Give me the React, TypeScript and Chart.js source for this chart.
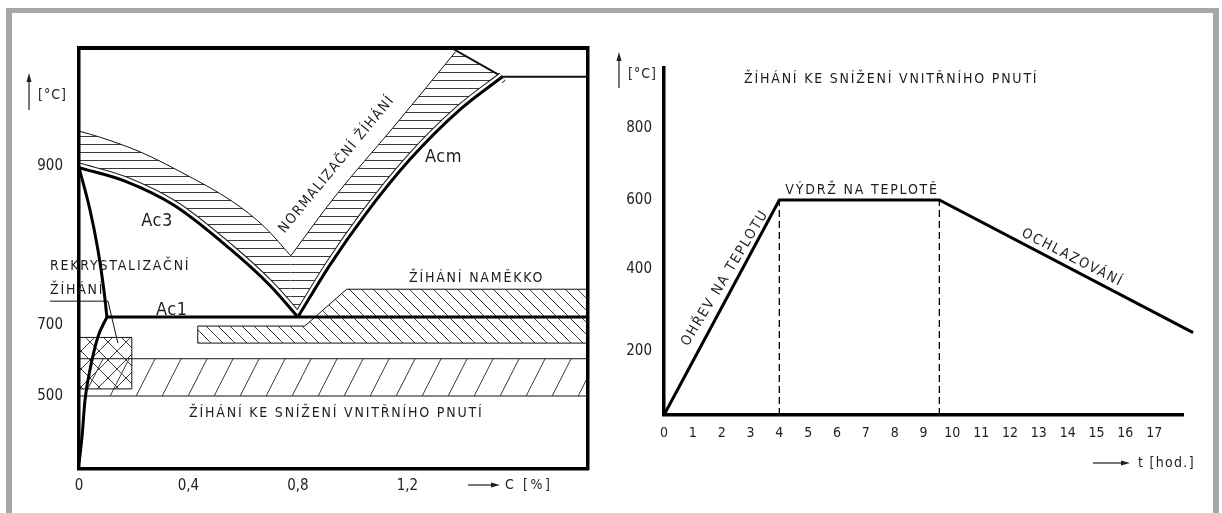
import React, { useEffect, useRef } from 'react';
import { Chart, registerables, LinearScale } from 'chart.js';

Chart.register(...registerables);

const FONT = "'DejaVu Sans Condensed', 'Liberation Sans Narrow', 'DejaVu Sans', sans-serif";

// ================= DATA : left diagram (x = C [%], y = °C) =================
const carbonTicks = [0, 0.4, 0.8, 1.2];
const carbonTickLabels = ['0', '0,4', '0,8', '1,2'];
const tempTicksLeft = [500, 700, 900];

const ac3Line = [[0, 898], [0.168, 881], [0.35, 850], [0.551, 796], [0.697, 750], [0.8, 710]];
const acmLine = [[0.8, 710], [0.916, 775], [1.044, 838], [1.208, 913], [1.391, 1019], [1.547, 1089]];
const ac1Line = [[0.102, 710], [1.86, 710]];
const gpLine = [[0, 898], [0.04, 845], [0.069, 795], [0.091, 744], [0.102, 710]];
const pqLine = [[0, 316], [0.011, 388], [0.022, 489], [0.04, 573], [0.069, 666], [0.102, 710]];
const acmTopLine = [[1.547, 1089], [1.86, 1089]];
const normLeftEdge = [[0, 974], [0.077, 961], [0.223, 930], [0.369, 893], [0.562, 855], [0.679, 823], [0.774, 787]];
const normRightEdge = [[0.774, 787], [0.934, 861], [1.153, 985], [1.376, 1142]];
const normTopEdge = [[1.361, 1150], [1.547, 1089]];
const softTop = [[0.434, 697], [0.825, 697], [0.978, 745], [1.86, 745]];
const softBottom = [[0.434, 649], [1.86, 649]];
const softSide = [[0.434, 649], [0.434, 697]];
const stressTop = [[0, 605], [1.86, 605]];
const stressBottom = [[0, 500], [1.86, 500]];
const recrystTop = [[0, 665], [0.193, 665]];
const recrystBottom = [[0, 520], [0.193, 520]];
const recrystSide = [[0.193, 520], [0.193, 665]];
const recrystLeader = [[-0.106, 730], [0.106, 730], [0.142, 649]];

const leftLabelTexts = ['Ac3', 'Acm', 'Ac1', 'NORMALIZAČNÍ ŽÍHÁNÍ', 'REKRYSTALIZAČNÍ', 'ŽÍHÁNÍ', 'ŽÍHÁNÍ NAMĚKKO', 'ŽÍHÁNÍ KE SNÍŽENÍ VNITŘNÍHO PNUTÍ'];
const leftLabelX = [0.285, 1.332, 0.339, 0.942, -0.106, -0.106, 1.453, 0.94];
const leftLabelY = [831, 919, 718, 903, 774, 744, 759, 453];

// ================= DATA : right diagram (x = t [hod.], y = °C) =================
const hourTicks = [0, 1, 2, 3, 4, 5, 6, 7, 8, 9, 10, 11, 12, 13, 14, 15, 16, 17];
const tempTicksRight = [200, 400, 600, 800];
const cycleHours = [0, 4, 9.55, 18.35];
const cycleTemps = [0, 600, 600, 245];
const holdStart = [[4, 0], [4, 600]];
const holdEnd = [[9.55, 0], [9.55, 600]];

const rightLabelTexts = ['ŽÍHÁNÍ KE SNÍŽENÍ VNITŘNÍHO PNUTÍ', 'VÝDRŽ NA TEPLOTĚ', 'OHŘEV NA TEPLOTU', 'OCHLAZOVÁNÍ'];
const rightLabelX = [7.88, 6.87, 2.12, 14.16];
const rightLabelY = [934, 628, 378, 432];

// ================= LAYOUT (schematic, non-uniform temperature axes) =================
const L = { w: 600, h: 513, left: 79, right: 588, top: 48, bottom: 469 };
const leftBreakVals = [300, 500, 700, 900, 1150];
const leftBreakPx = [469, 396, 325, 166, 48];
const R = { w: 622, h: 513, left: 64, right: 583, top: 68, bottom: 415 };
const rightBreakVals = [0, 200, 400, 600, 800, 967];
const rightBreakPx = [415, 351, 269, 200, 128, 68];

function makePiecewise(id: string, vals: number[], px: number[], bottom: number, top: number) {
  const decs = px.map((p) => (bottom - p) / (bottom - top));
  const seg = (arr: number[], v: number) => {
    let i = 0;
    while (i < arr.length - 2 && v > arr[i + 1]) i++;
    return i;
  };
  const toDec = (v: number) => {
    const i = seg(vals, v);
    return decs[i] + ((v - vals[i]) / (vals[i + 1] - vals[i])) * (decs[i + 1] - decs[i]);
  };
  const fromDec = (d: number) => {
    const i = seg(decs, d);
    return vals[i] + ((d - decs[i]) / (decs[i + 1] - decs[i])) * (vals[i + 1] - vals[i]);
  };
  const Base: any = LinearScale;
  class PiecewiseScale extends Base {
    static id = id;
    getPixelForValue(value: any) {
      if (value === null || value === undefined || Number.isNaN(+value)) return NaN;
      return (this as any).getPixelForDecimal(toDec(+value));
    }
    getValueForPixel(pixel: number) {
      return fromDec((this as any).getDecimalForPixel(pixel));
    }
  }
  Chart.register(PiecewiseScale as any);
}
makePiecewise('pwLeft', leftBreakVals, leftBreakPx, L.bottom, L.top);
makePiecewise('pwRight', rightBreakVals, rightBreakPx, R.bottom, R.top);

Chart.defaults.font.family = FONT;

const xy = (a: number[][]) => a.map(([x, y]) => ({ x, y }));
function line(data: number[][], o: any = {}) {
  return {
    type: 'line',
    data: xy(data),
    borderColor: '#111',
    borderWidth: 1,
    pointRadius: 0,
    pointHoverRadius: 0,
    fill: false,
    tension: 0,
    ...o,
  };
}
const curve = { cubicInterpolationMode: 'monotone' };

function pattern(ctx: CanvasRenderingContext2D, w: number, h: number, draw: (g: CanvasRenderingContext2D) => void) {
  const c = document.createElement('canvas');
  c.width = w;
  c.height = h;
  const g = c.getContext('2d')!;
  g.strokeStyle = '#3a3a3a';
  g.lineWidth = 1;
  draw(g);
  return ctx.createPattern(c, 'repeat');
}

function arrow(ctx: CanvasRenderingContext2D, x1: number, y1: number, x2: number, y2: number, head = 9, half = 2.5, lw = 1.2) {
  const a = Math.atan2(y2 - y1, x2 - x1);
  ctx.save();
  ctx.strokeStyle = '#1e1e1e';
  ctx.fillStyle = '#1e1e1e';
  ctx.lineWidth = lw;
  ctx.beginPath();
  ctx.moveTo(x1, y1);
  ctx.lineTo(x2 - Math.cos(a) * head * 0.7, y2 - Math.sin(a) * head * 0.7);
  ctx.stroke();
  ctx.translate(x2, y2);
  ctx.rotate(a);
  ctx.beginPath();
  ctx.moveTo(0, 0);
  ctx.lineTo(-head, -half);
  ctx.lineTo(-head, half);
  ctx.closePath();
  ctx.fill();
  ctx.restore();
}

function label(ctx: CanvasRenderingContext2D, s: string, x: number, y: number, o: any = {}) {
  const { size = 14, rot = 0, align = 'center', spacing = 1.8 } = o;
  ctx.save();
  ctx.font = `${size}px ${FONT}`;
  (ctx as any).letterSpacing = `${spacing}px`;
  ctx.fillStyle = '#1e1e1e';
  ctx.textAlign = align;
  ctx.textBaseline = 'middle';
  ctx.translate(x, y);
  ctx.rotate((rot * Math.PI) / 180);
  ctx.fillText(s, 0, 0);
  ctx.restore();
}

const leftLabelStyle = [
  { size: 18, spacing: 0.5 },
  { size: 18, spacing: 0.5 },
  { size: 18, spacing: 0.5 },
  { rot: -50.5, spacing: 1.5 },
  { align: 'left' },
  { align: 'left' },
  {},
  {},
];
const rightLabelStyle = [{}, {}, { rot: -59 }, { rot: 27 }];

const hiddenFrameAxis = (position: string, size: number) => ({
  type: 'linear',
  position,
  min: 0,
  max: 1,
  grid: { display: false, drawTicks: false },
  ticks: { display: false },
  border: { display: true, color: '#000', width: size, z: 1 },
  afterFit: (s: any) => {
    if (position === 'top') s.height = 0;
    else s.width = 0;
  },
});

function leftConfig(ctx: CanvasRenderingContext2D): any {
  const hatchH = pattern(ctx, 8, 8, (g) => {
    g.beginPath();
    g.moveTo(0, 0.5);
    g.lineTo(8, 0.5);
    g.stroke();
  });
  const hatchBack = pattern(ctx, 12, 12, (g) => {
    g.beginPath();
    for (let k = -1; k <= 1; k++) {
      g.moveTo(k * 12, 0);
      g.lineTo(k * 12 + 12, 12);
    }
    g.stroke();
  });
  const hatchSlash = pattern(ctx, 26, 51, (g) => {
    g.beginPath();
    for (let k = -1; k <= 1; k++) {
      g.moveTo(k * 26, 51);
      g.lineTo(k * 26 + 26, 0);
    }
    g.stroke();
  });
  const hatchCross = pattern(ctx, 18, 18, (g) => {
    g.beginPath();
    for (let k = -1; k <= 1; k++) {
      g.moveTo(k * 18, 0);
      g.lineTo(k * 18 + 18, 18);
      g.moveTo(k * 18, 18);
      g.lineTo(k * 18 + 18, 0);
    }
    g.stroke();
  });

  // Each dataset's fill is drawn just before its own line; higher "order" is drawn first.
  const datasets = [
    line(normLeftEdge, { ...curve, fill: 'start', backgroundColor: hatchH, order: 50 }), // 0
    line(normRightEdge, { ...curve, fill: 'start', backgroundColor: hatchH, order: 50 }), // 1
    line(normTopEdge, { fill: 'start', backgroundColor: hatchH, borderWidth: 2, order: 50 }), // 2
    line(ac3Line, { ...curve, borderColor: '#222', borderWidth: 10, order: 48 }), // 3 outline of hatched band
    line(acmLine, { ...curve, borderColor: '#222', borderWidth: 10, order: 48 }), // 4
    line(ac3Line, { ...curve, borderColor: '#fff', borderWidth: 8, order: 47 }), // 5 white gap
    line(acmLine, { ...curve, borderColor: '#fff', borderWidth: 8, order: 47 }), // 6
    line(ac3Line, { ...curve, fill: 'start', backgroundColor: '#fff', borderWidth: 0, order: 45 }), // 7
    line(acmLine, { ...curve, fill: 'start', backgroundColor: '#fff', borderWidth: 0, order: 45 }), // 8
    line(stressTop, { fill: 10, backgroundColor: hatchSlash, order: 40 }), // 9
    line(stressBottom, { order: 40 }), // 10
    line(softTop, { fill: 12, backgroundColor: hatchBack, order: 40 }), // 11
    line(softBottom, { order: 40 }), // 12
    line(recrystTop, { fill: 14, backgroundColor: hatchCross, order: 30 }), // 13
    line(recrystBottom, { order: 30 }), // 14
    line(softSide, { order: 4 }),
    line(recrystSide, { order: 4 }),
    line(recrystLeader, { order: 4, clip: false }),
    line(acmTopLine, { order: 4, borderWidth: 2 }),
    line(ac3Line, { ...curve, borderColor: '#000', borderWidth: 3, order: 1 }),
    line(acmLine, { ...curve, borderColor: '#000', borderWidth: 3, order: 1 }),
    line(ac1Line, { borderColor: '#000', borderWidth: 3, order: 1 }),
    line(gpLine, { ...curve, borderColor: '#000', borderWidth: 3, order: 1 }),
    line(pqLine, { ...curve, borderColor: '#000', borderWidth: 3, order: 1 }),
  ];

  const textPlugin = {
    id: 'leftText',
    afterDraw(chart: any) {
      const c = chart.ctx;
      const { x, y } = chart.scales;
      leftLabelTexts.forEach((t, i) => {
        label(c, t, x.getPixelForValue(leftLabelX[i]), y.getPixelForValue(leftLabelY[i]), leftLabelStyle[i]);
      });
      arrow(c, 29, 110, 29, 73);
      label(c, '[°C]', 38, 95, { align: 'left', spacing: 1 });
      arrow(c, 468, 485, 500, 485);
      label(c, 'C [%]', 505, 485, { align: 'left', spacing: 2.6 });
    },
  };

  return {
    type: 'line',
    data: { datasets },
    plugins: [textPlugin],
    options: {
      responsive: false,
      maintainAspectRatio: false,
      devicePixelRatio: 1,
      animation: false,
      events: [],
      layout: { padding: { left: 0, right: L.w - L.right, top: L.top, bottom: 0 } },
      plugins: {
        legend: { display: false },
        tooltip: { enabled: false },
        filler: { drawTime: 'beforeDatasetDraw' },
      },
      scales: {
        x: {
          type: 'linear',
          position: 'bottom',
          min: 0,
          max: 1.86,
          bounds: 'data',
          grid: { display: false, drawTicks: false },
          border: { display: true, color: '#000', width: 3.5, z: 1 },
          ticks: {
            font: { family: FONT, size: 15 },
            color: '#222',
            padding: 8,
            autoSkip: false,
            maxRotation: 0,
            callback: (v: number) => carbonTickLabels[carbonTicks.indexOf(v)] ?? '',
          },
          afterBuildTicks: (s: any) => {
            s.ticks = carbonTicks.map((v) => ({ value: v }));
          },
          afterFit: (s: any) => {
            s.height = L.h - L.bottom;
          },
        },
        y: {
          type: 'pwLeft',
          position: 'left',
          min: leftBreakVals[0],
          max: leftBreakVals[leftBreakVals.length - 1],
          bounds: 'data',
          grid: { display: false, drawTicks: false },
          border: { display: true, color: '#000', width: 3.5, z: 1 },
          ticks: { font: { family: FONT, size: 15 }, color: '#222', padding: 16 },
          afterBuildTicks: (s: any) => {
            s.ticks = tempTicksLeft.map((v) => ({ value: v }));
          },
          afterFit: (s: any) => {
            s.width = L.left;
          },
        },
        xTop: hiddenFrameAxis('top', 4),
        yRight: hiddenFrameAxis('right', 3.5),
      },
    },
  };
}

function rightConfig(): any {
  const datasets = [
    line(holdStart, { borderColor: '#000', borderWidth: 1.3, borderDash: [7, 4], order: 3 }),
    line(holdEnd, { borderColor: '#000', borderWidth: 1.3, borderDash: [7, 4], order: 3 }),
    {
      type: 'line',
      data: cycleHours.map((h, i) => ({ x: h, y: cycleTemps[i] })),
      borderColor: '#000',
      borderWidth: 3,
      pointRadius: 0,
      pointHoverRadius: 0,
      fill: false,
      tension: 0,
      clip: false,
      order: 1,
    },
  ];

  const textPlugin = {
    id: 'rightText',
    afterDraw(chart: any) {
      const c = chart.ctx;
      const { x, y } = chart.scales;
      rightLabelTexts.forEach((t, i) => {
        label(c, t, x.getPixelForValue(rightLabelX[i]), y.getPixelForValue(rightLabelY[i]), rightLabelStyle[i]);
      });
      arrow(c, 19, 88, 19, 52);
      label(c, '[°C]', 28, 74, { align: 'left', spacing: 1 });
      arrow(c, 493, 463, 530, 463);
      label(c, 't [hod.]', 538, 463, { align: 'left', spacing: 1.3 });
    },
  };

  return {
    type: 'line',
    data: { datasets },
    plugins: [textPlugin],
    options: {
      responsive: false,
      maintainAspectRatio: false,
      devicePixelRatio: 1,
      animation: false,
      events: [],
      layout: { padding: { left: 0, right: R.w - R.right, top: R.top, bottom: 0 } },
      plugins: {
        legend: { display: false },
        tooltip: { enabled: false },
      },
      scales: {
        x: {
          type: 'linear',
          position: 'bottom',
          min: 0,
          max: 18,
          bounds: 'data',
          grid: { display: false, drawTicks: false },
          border: { display: true, color: '#000', width: 3.5, z: 1 },
          ticks: { font: { family: FONT, size: 14 }, color: '#222', padding: 10, autoSkip: false, maxRotation: 0 },
          afterBuildTicks: (s: any) => {
            s.ticks = hourTicks.map((v) => ({ value: v }));
          },
          afterFit: (s: any) => {
            s.height = R.h - R.bottom;
          },
        },
        y: {
          type: 'pwRight',
          position: 'left',
          min: rightBreakVals[0],
          max: rightBreakVals[rightBreakVals.length - 1],
          bounds: 'data',
          grid: { display: false, drawTicks: false },
          border: { display: true, color: '#000', width: 3.5, z: 1 },
          ticks: { font: { family: FONT, size: 15 }, color: '#222', padding: 12 },
          afterBuildTicks: (s: any) => {
            s.ticks = tempTicksRight.map((v) => ({ value: v }));
          },
          afterFit: (s: any) => {
            s.width = R.left;
          },
        },
      },
    },
  };
}

export default function App() {
  const leftRef = useRef<HTMLCanvasElement>(null);
  const rightRef = useRef<HTMLCanvasElement>(null);

  useEffect(() => {
    const lc = leftRef.current!;
    const rc = rightRef.current!;
    const left = new Chart(lc, leftConfig(lc.getContext('2d')!));
    const right = new Chart(rc, rightConfig());
    return () => {
      left.destroy();
      right.destroy();
    };
  }, []);

  return (
    <div style={{ position: 'fixed', left: 0, top: 0, width: 1222, height: 513, background: '#fff', overflow: 'hidden' }}>
      <div
        style={{
          position: 'absolute',
          left: 6,
          top: 8,
          width: 1201,
          height: 520,
          borderTop: '5px solid #a6a6a6',
          borderLeft: '6px solid #a6a6a6',
          borderRight: '6px solid #a6a6a6',
        }}
      />
      <canvas ref={leftRef} width={L.w} height={L.h} style={{ position: 'absolute', left: 0, top: 0, width: L.w, height: L.h }} />
      <canvas ref={rightRef} width={R.w} height={R.h} style={{ position: 'absolute', left: 600, top: 0, width: R.w, height: R.h }} />
    </div>
  );
}
